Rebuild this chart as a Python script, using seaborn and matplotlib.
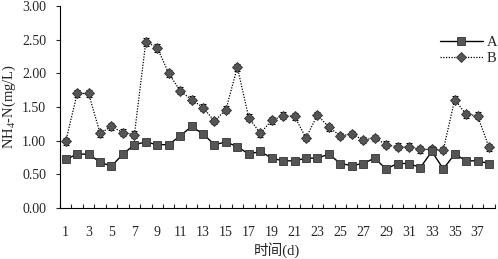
import numpy as np
import pandas as pd
import matplotlib
matplotlib.use("Agg")
import matplotlib.pyplot as plt
import seaborn as sns

# ==========================================
# data
# ==========================================
days = list(range(1, 39))
nh4_a = [0.72, 0.80, 0.80, 0.68, 0.62, 0.80, 0.94, 0.98, 0.94, 0.94,
         1.07, 1.21, 1.10, 0.94, 0.98, 0.91, 0.80, 0.84, 0.74, 0.70,
         0.70, 0.74, 0.74, 0.80, 0.66, 0.63, 0.66, 0.74, 0.58, 0.66,
         0.66, 0.60, 0.84, 0.58, 0.80, 0.70, 0.70, 0.66]
nh4_b = [0.99, 1.70, 1.70, 1.11, 1.21, 1.12, 1.09, 2.47, 2.38, 2.00,
         1.74, 1.61, 1.49, 1.29, 1.46, 2.09, 1.34, 1.11, 1.30, 1.37,
         1.36, 1.04, 1.38, 1.20, 1.07, 1.10, 1.01, 1.04, 0.94, 0.91,
         0.91, 0.87, 0.87, 0.86, 1.61, 1.39, 1.37, 0.90]
sd_b = [0.05, 0.05, 0.05, 0.05, 0.05, 0.05, 0.05, 0.06, 0.06, 0.05,
        0.05, 0.05, 0.05, 0.05, 0.05, 0.05, 0.05, 0.05, 0.05, 0.05,
        0.05, 0.05, 0.05, 0.05, 0.05, 0.05, 0.05, 0.05, 0.05, 0.05,
        0.05, 0.05, 0.05, 0.05, 0.05, 0.05, 0.05, 0.05]
xtick_labels = [str(d) for d in range(1, 38, 2)]
yticks = [0.0, 0.5, 1.0, 1.5, 2.0, 2.5, 3.0]

df = pd.DataFrame({"day": days, "A": nh4_a, "B": nh4_b, "sd": sd_b})

# ==========================================
# figure
# ==========================================
sns.set_style("white")
plt.rcParams["font.family"] = ["Liberation Serif", "Noto Sans CJK SC"]
plt.rcParams["mathtext.fontset"] = "custom"
plt.rcParams["mathtext.rm"] = "Liberation Serif"
plt.rcParams["mathtext.it"] = "Liberation Serif"

fig = plt.figure(figsize=(4.98, 2.59), dpi=100)
ax = fig.add_axes([0.1205, 0.197, 0.873, 0.78])

# B: dotted line with diamonds + error bars
ax.errorbar(df["day"], df["B"], yerr=df["sd"], fmt="none", ecolor="black",
            elinewidth=0.8, capsize=2.2, capthick=0.8, zorder=2)
sns.lineplot(data=df, x="day", y="B", ax=ax, color="black", linewidth=0.9,
             linestyle=(0, (1, 1.2)), marker="D", markersize=5,
             markerfacecolor="#555555", markeredgecolor="#333333",
             markeredgewidth=0.6, label="B", zorder=3)

# A: solid line with squares
sns.lineplot(data=df, x="day", y="A", ax=ax, color="black", linewidth=1.0,
             marker="s", markersize=6, markerfacecolor="#555555",
             markeredgecolor="#333333", markeredgewidth=0.6, label="A",
             zorder=4)

ax.set_xlim(0.5, 38.5)
ax.set_ylim(0, 3.0)
ax.set_yticks(yticks)
ax.set_yticklabels([f"{v:.2f}" for v in yticks])
ax.set_xticks(range(1, 38, 2))
ax.set_xticklabels(xtick_labels)
ax.set_xticks(np.arange(0.5, 39, 1), minor=True)

for side in ["top", "right"]:
    ax.spines[side].set_visible(False)
for side in ["left", "bottom"]:
    ax.spines[side].set_color("black")
    ax.spines[side].set_linewidth(0.8)

ax.tick_params(axis="y", which="major", direction="out", length=3,
               width=0.8, labelsize=10, left=True, pad=7)
ax.tick_params(axis="x", which="major", length=0, labelsize=10, pad=13)
ax.tick_params(axis="x", which="minor", direction="in", length=3,
               width=0.8, bottom=True)

ax.set_xlabel("时间(d)", fontsize=10.5, labelpad=2)
ax.set_ylabel("NH$_4$-N(mg/L)", fontsize=10.5, labelpad=3)

handles, labels = ax.get_legend_handles_labels()
order = [labels.index("A"), labels.index("B")]
ax.legend([handles[i] for i in order], [labels[i] for i in order],
          loc="upper right", bbox_to_anchor=(1.02, 0.88), frameon=False,
          fontsize=10.5, handlelength=2.9, handletextpad=0.3,
          labelspacing=0.15, borderaxespad=0)

fig.savefig("out.png", dpi=100)
